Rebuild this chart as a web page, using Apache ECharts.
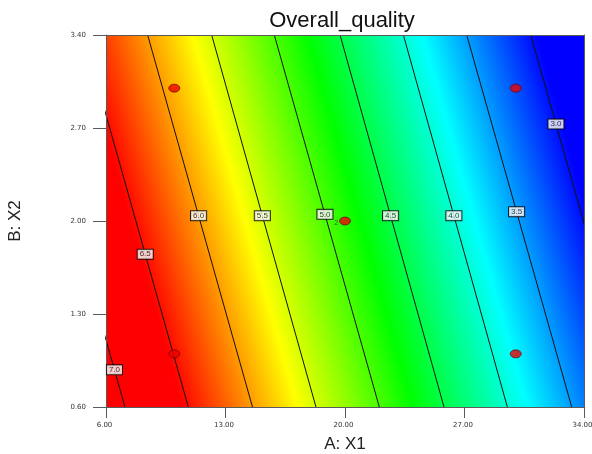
<!DOCTYPE html>
<html>
<head>
<meta charset="utf-8">
<script src="https://cdn.jsdelivr.net/npm/echarts@6/dist/echarts.min.js"></script>
<style>
  html, body { margin: 0; padding: 0; background: #fff; }
  #contourchart { width: 592px; height: 454px; }
</style>
</head>
<body>
<div id="contourchart"></div>
<script>
  // axis ticks
  const xTicks = [6, 13, 20, 27, 34]
  const yTicks = [0.6, 1.3, 2.0, 2.7, 3.4]

  // contour levels, and the A value where each line crosses B = 0.6 (bottom) and B = 3.4 (top)
  const levels = [7.0, 6.5, 6.0, 5.5, 5.0, 4.5, 4.0, 3.5, 3.0]
  const aAtBottom = [7.11, 10.82, 14.58, 18.30, 22.01, 25.80, 29.51, 33.28, 37.05]
  const aAtTop = [0.96, 4.68, 8.44, 12.19, 15.86, 19.71, 23.42, 27.13, 30.88]
  // B value where each contour label sits
  const labelB = [0.88, 1.75, 2.04, 2.04, 2.05, 2.04, 2.04, 2.07, 2.73]

  // colour ramp of the response (red high -> blue low)
  const rampValues = [6.55, 5.65, 4.75, 3.85, 2.95]
  const rampColors = ['#ff0000', '#ffff00', '#00ff00', '#00ffff', '#0000ff']

  // design points and replicates
  const designA = [10, 30, 10, 30, 20]
  const designB = [1.0, 1.0, 3.0, 3.0, 2.0]
  const designReps = [1, 1, 1, 1, 2]

  const font = 'Liberation Sans'
  const tickFont = 'DejaVu Sans'
  const axisColor = '#5a5a5a'
  const bLo = yTicks[0]
  const bHi = yTicks[yTicks.length - 1]

  const chart = echarts.init(document.querySelector('#contourchart'))

  // background colour field, the gradient runs across the contour lines
  function renderField(params, api) {
    const lt = api.coord([xTicks[0], bHi])
    const rb = api.coord([xTicks[xTicks.length - 1], bLo])
    const last = levels.length - 1
    const b0 = api.coord([aAtBottom[0], bLo])
    const t0 = api.coord([aAtTop[0], bHi])
    const b1 = api.coord([aAtBottom[last], bLo])
    const dx = t0[0] - b0[0]
    const dy = t0[1] - b0[1]
    const len = Math.hypot(dx, dy)
    let nx = -dy / len
    let ny = dx / len
    let dist = (b1[0] - b0[0]) * nx + (b1[1] - b0[1]) * ny
    if (dist < 0) { nx = -nx; ny = -ny; dist = -dist }
    const perUnit = dist / (levels[0] - levels[last])
    const vHi = rampValues[0]
    const vLo = rampValues[rampValues.length - 1]
    const sx = b0[0] + nx * (levels[0] - vHi) * perUnit
    const sy = b0[1] + ny * (levels[0] - vHi) * perUnit
    const ex = b0[0] + nx * (levels[0] - vLo) * perUnit
    const ey = b0[1] + ny * (levels[0] - vLo) * perUnit
    const stops = rampValues.map((v, i) => ({ offset: (vHi - v) / (vHi - vLo), color: rampColors[i] }))
    return {
      type: 'rect',
      shape: { x: lt[0], y: lt[1], width: rb[0] - lt[0], height: rb[1] - lt[1] },
      style: { fill: new echarts.graphic.LinearGradient(sx, sy, ex, ey, stops, true) }
    }
  }

  const contourSeries = levels.map((lv, i) => ({
    type: 'line',
    data: [[aAtBottom[i], bLo], [aAtTop[i], bHi]],
    symbol: 'none',
    clip: true,
    silent: true,
    z: 3,
    lineStyle: { color: '#111', width: 1 }
  }))

  const labelData = levels.map((lv, i) => {
    const t = (labelB[i] - bLo) / (bHi - bLo)
    return [aAtBottom[i] + (aAtTop[i] - aAtBottom[i]) * t, labelB[i], lv]
  })

  chart.setOption({
    animation: false,
    grid: { left: 106, right: 8, top: 35, bottom: 47, containLabel: false, outerBoundsMode: 'none' },
    graphic: [{
      type: 'text',
      x: 342,
      y: 20.5,
      style: { text: 'Overall_quality', fontSize: 22, fontFamily: font, fill: '#111', align: 'center', verticalAlign: 'middle' }
    }],
    xAxis: [{
      type: 'value',
      min: xTicks[0],
      max: xTicks[xTicks.length - 1],
      position: 'bottom',
      z: 5,
      axisLine: { show: true, onZero: false, lineStyle: { color: axisColor } },
      axisTick: { show: true, length: 11, customValues: xTicks, lineStyle: { color: axisColor } },
      axisLabel: {
        customValues: xTicks,
        formatter: (v) => v.toFixed(2),
        margin: 15,
        fontSize: 7,
        fontFamily: tickFont,
        color: '#333',
        padding: [0, 3, 0, 0]
      },
      splitLine: { show: false },
      name: 'A: X1',
      nameLocation: 'middle',
      nameGap: 29,
      nameTextStyle: { fontSize: 17, fontFamily: font, color: '#222' }
    }, {
      type: 'value',
      min: xTicks[0],
      max: xTicks[xTicks.length - 1],
      position: 'top',
      z: 5,
      axisLine: { show: true, onZero: false, lineStyle: { color: axisColor } },
      axisTick: { show: false },
      axisLabel: { show: false },
      splitLine: { show: false }
    }],
    yAxis: [{
      type: 'value',
      min: bLo,
      max: bHi,
      position: 'left',
      z: 5,
      axisLine: { show: true, onZero: false, lineStyle: { color: axisColor } },
      axisTick: { show: true, length: 13, customValues: yTicks, lineStyle: { color: axisColor } },
      axisLabel: { customValues: yTicks, formatter: (v) => v.toFixed(2), margin: 20, fontSize: 7, fontFamily: tickFont, color: '#333' },
      splitLine: { show: false },
      name: 'B: X2',
      nameLocation: 'middle',
      nameGap: 82,
      nameTextStyle: { fontSize: 17, fontFamily: font, color: '#222' }
    }, {
      type: 'value',
      min: bLo,
      max: bHi,
      position: 'right',
      z: 5,
      axisLine: { show: true, onZero: false, lineStyle: { color: axisColor } },
      axisTick: { show: false },
      axisLabel: { show: false },
      splitLine: { show: false }
    }],
    series: [
      {
        type: 'custom',
        renderItem: renderField,
        data: [[xTicks[0], bLo]],
        silent: true,
        z: 1
      },
      ...contourSeries,
      {
        type: 'scatter',
        data: labelData,
        symbolSize: 1,
        silent: true,
        z: 6,
        itemStyle: { color: 'transparent' },
        label: {
          show: true,
          position: 'inside',
          formatter: (p) => p.value[2].toFixed(1),
          fontSize: 8,
          fontFamily: font,
          color: '#000',
          backgroundColor: '#fff',
          borderColor: '#000',
          borderWidth: 1,
          padding: [1, 2, 0, 2]
        }
      },
      {
        type: 'scatter',
        data: designA.map((a, i) => [a, designB[i], designReps[i]]),
        symbol: 'circle',
        symbolSize: [11, 8],
        z: 7,
        itemStyle: { color: '#ee0000', borderColor: '#5a0000', borderWidth: 0.8 },
        label: {
          show: true,
          position: 'left',
          distance: 1,
          offset: [0, 2],
          formatter: (p) => (p.value[2] > 1 ? String(p.value[2]) : ''),
          fontSize: 7,
          fontFamily: font,
          color: '#333'
        }
      }
    ]
  })
</script>
</body>
</html>
